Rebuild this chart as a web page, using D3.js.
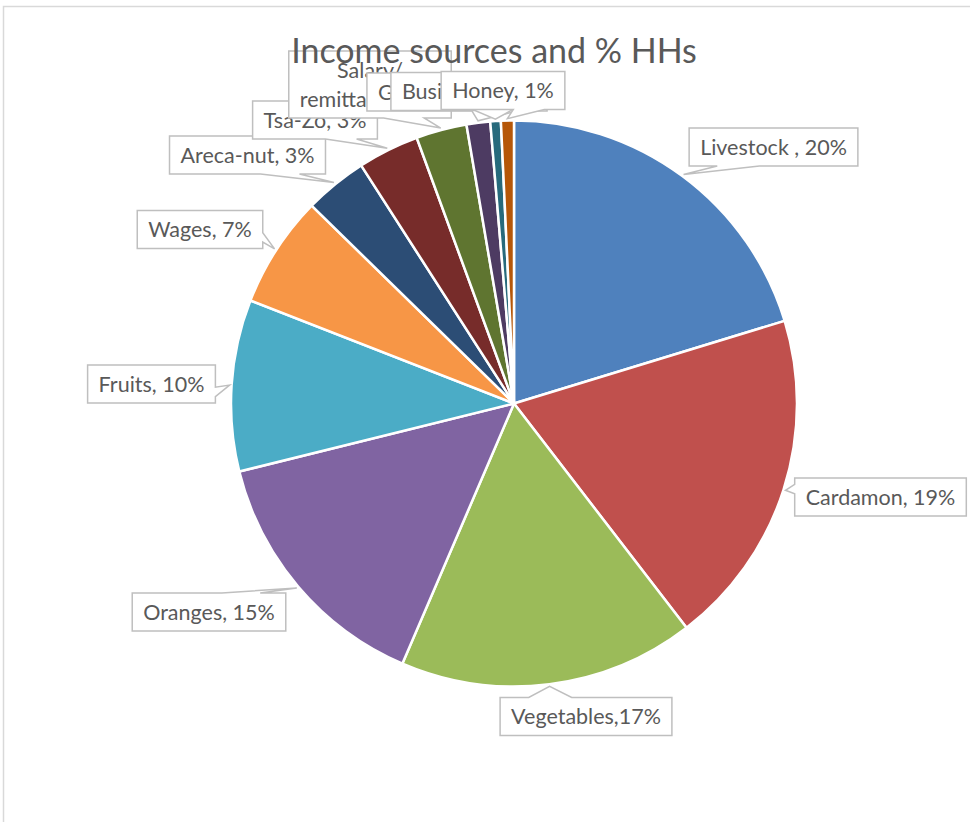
<!DOCTYPE html>
<html>
<head>
    <title>Income sources and % HHs</title>
    <script src="https://d3js.org/d3.v7.min.js"></script>
    <style>
        body {
            margin: 0;
            background: #fff;
            font-family: Lato, "Open Sans", sans-serif;
        }
        .title {
            font-size: 34px;
            fill: #595959;
        }
        .callout path {
            fill: #fff;
            stroke: #bfbfbf;
            stroke-width: 1.5;
        }
        .callout text {
            font-size: 21.5px;
            fill: #595959;
        }
    </style>
</head>
<body>
    <div id="chart"></div>

    <script>
        // Income sources, share of households (slice sizes)
        const sources = ["Livestock", "Cardamon", "Vegetables", "Oranges", "Fruits", "Wages",
                         "Areca-nut", "Tsa-zo", "Salary/remittance", "Government", "Business", "Honey"];
        const shares = [20.3, 19.3, 16.9, 14.7, 9.8, 6.4, 3.6, 3.5, 2.9, 1.35, 0.6, 0.74];
        // data label text as printed on the chart
        const labelLines = [
            ["Livestock , 20%"], ["Cardamon, 19%"], ["Vegetables,17%"], ["Oranges, 15%"],
            ["Fruits, 10%"], ["Wages, 7%"], ["Areca-nut, 3%"], ["Tsa-Zo, 3%"],
            ["Salary/", "remittance, 3%"], ["Government, 1%"], ["Business, 1%"], ["Honey, 1%"]
        ];
        const colors = ["#4f81bd", "#c0504d", "#9bbb59", "#8064a2", "#4bacc6", "#f79646",
                        "#2c4d75", "#772c2a", "#5f7530", "#4d3b62", "#276a7c", "#b65708"];

        // label box centres, as offsets from the pie centre (hand placed in the original)
        const labelOffsets = [
            [259.5, -256.5], [366.5, 93.5], [72, 313], [-305, 208.5], [-362.5, -19.5], [-314, -174],
            [-266.5, -248.5], [-199, -283.5], [-144, -319], [-57, -311.5], [-51, -312], [-11, -313]
        ];

        const width = 970, height = 822;
        const cx = 514, cy = 403.5, radius = 283;
        const pad = 11, lineH = 29, boxH = 38;

        const svg = d3.select("#chart")
            .append("svg")
            .attr("width", width)
            .attr("height", height);

        // chart area border
        svg.append("rect")
            .attr("x", 3.5).attr("y", 6.5)
            .attr("width", 981).attr("height", 900)
            .attr("fill", "#fff")
            .attr("stroke", "#d9d9d9")
            .attr("stroke-width", 1.5);

        const pie = d3.pie().sort(null).value(d => d);
        const arcs = pie(shares);
        const arc = d3.arc().innerRadius(0).outerRadius(radius);

        const g = svg.append("g").attr("transform", `translate(${cx},${cy})`);

        g.selectAll("path.slice")
            .data(arcs)
            .join("path")
            .attr("class", "slice")
            .attr("d", arc)
            .attr("fill", (d, i) => colors[i])
            .attr("stroke", "#fff")
            .attr("stroke-width", 2.5)
            .attr("stroke-linejoin", "round");

        // wedge rectangle callout, like the office shape
        function calloutPath(x0, y0, x1, y1, tx, ty) {
            const w = x1 - x0, h = y1 - y0;
            const mx = (x0 + x1) / 2, my = (y0 + y1) / 2;
            const dx = tx - mx, dy = ty - my;
            if (Math.abs(dy) > Math.abs(dx) * h / w) {
                const a = dx < 0 ? x0 + w * 2 / 12 : x0 + w * 7 / 12;
                const b = dx < 0 ? x0 + w * 5 / 12 : x0 + w * 10 / 12;
                if (dy > 0) {
                    return `M${x0},${y0}H${x1}V${y1}H${b}L${tx},${ty}L${a},${y1}H${x0}Z`;
                }
                return `M${x0},${y0}H${a}L${tx},${ty}L${b},${y0}H${x1}V${y1}H${x0}Z`;
            }
            const a = dy < 0 ? y0 + h * 2 / 12 : y0 + h * 7 / 12;
            const b = dy < 0 ? y0 + h * 5 / 12 : y0 + h * 10 / 12;
            if (dx > 0) {
                return `M${x0},${y0}H${x1}V${a}L${tx},${ty}L${x1},${b}V${y1}H${x0}Z`;
            }
            return `M${x0},${y0}H${x1}V${y1}H${x0}V${b}L${tx},${ty}L${x0},${a}Z`;
        }

        const labels = g.append("g");
        arcs.forEach((d, i) => {
            const lines = labelLines[i];
            const [ox, oy] = labelOffsets[i];
            const mid = (d.startAngle + d.endAngle) / 2;
            const tx = Math.sin(mid) * (radius + 2);
            const ty = -Math.cos(mid) * (radius + 2);

            const c = labels.append("g").attr("class", "callout");
            const shape = c.append("path");
            const bh = boxH + (lines.length - 1) * lineH;
            const text = c.append("text").attr("text-anchor", "middle");
            lines.forEach((s, j) => {
                text.append("tspan")
                    .attr("x", ox)
                    .attr("y", oy - (lines.length - 1) * lineH / 2 + j * lineH)
                    .attr("dy", "0.35em")
                    .text(s);
            });
            const tw = d3.max(text.selectAll("tspan").nodes(), n => n.getComputedTextLength());
            const bw = tw + 2 * pad;
            shape.attr("d", calloutPath(ox - bw / 2, oy - bh / 2, ox + bw / 2, oy + bh / 2, tx, ty));
        });

        svg.append("text")
            .attr("class", "title")
            .attr("x", 494)
            .attr("y", 63)
            .attr("text-anchor", "middle")
            .text("Income sources and % HHs");
    </script>
</body>
</html>
